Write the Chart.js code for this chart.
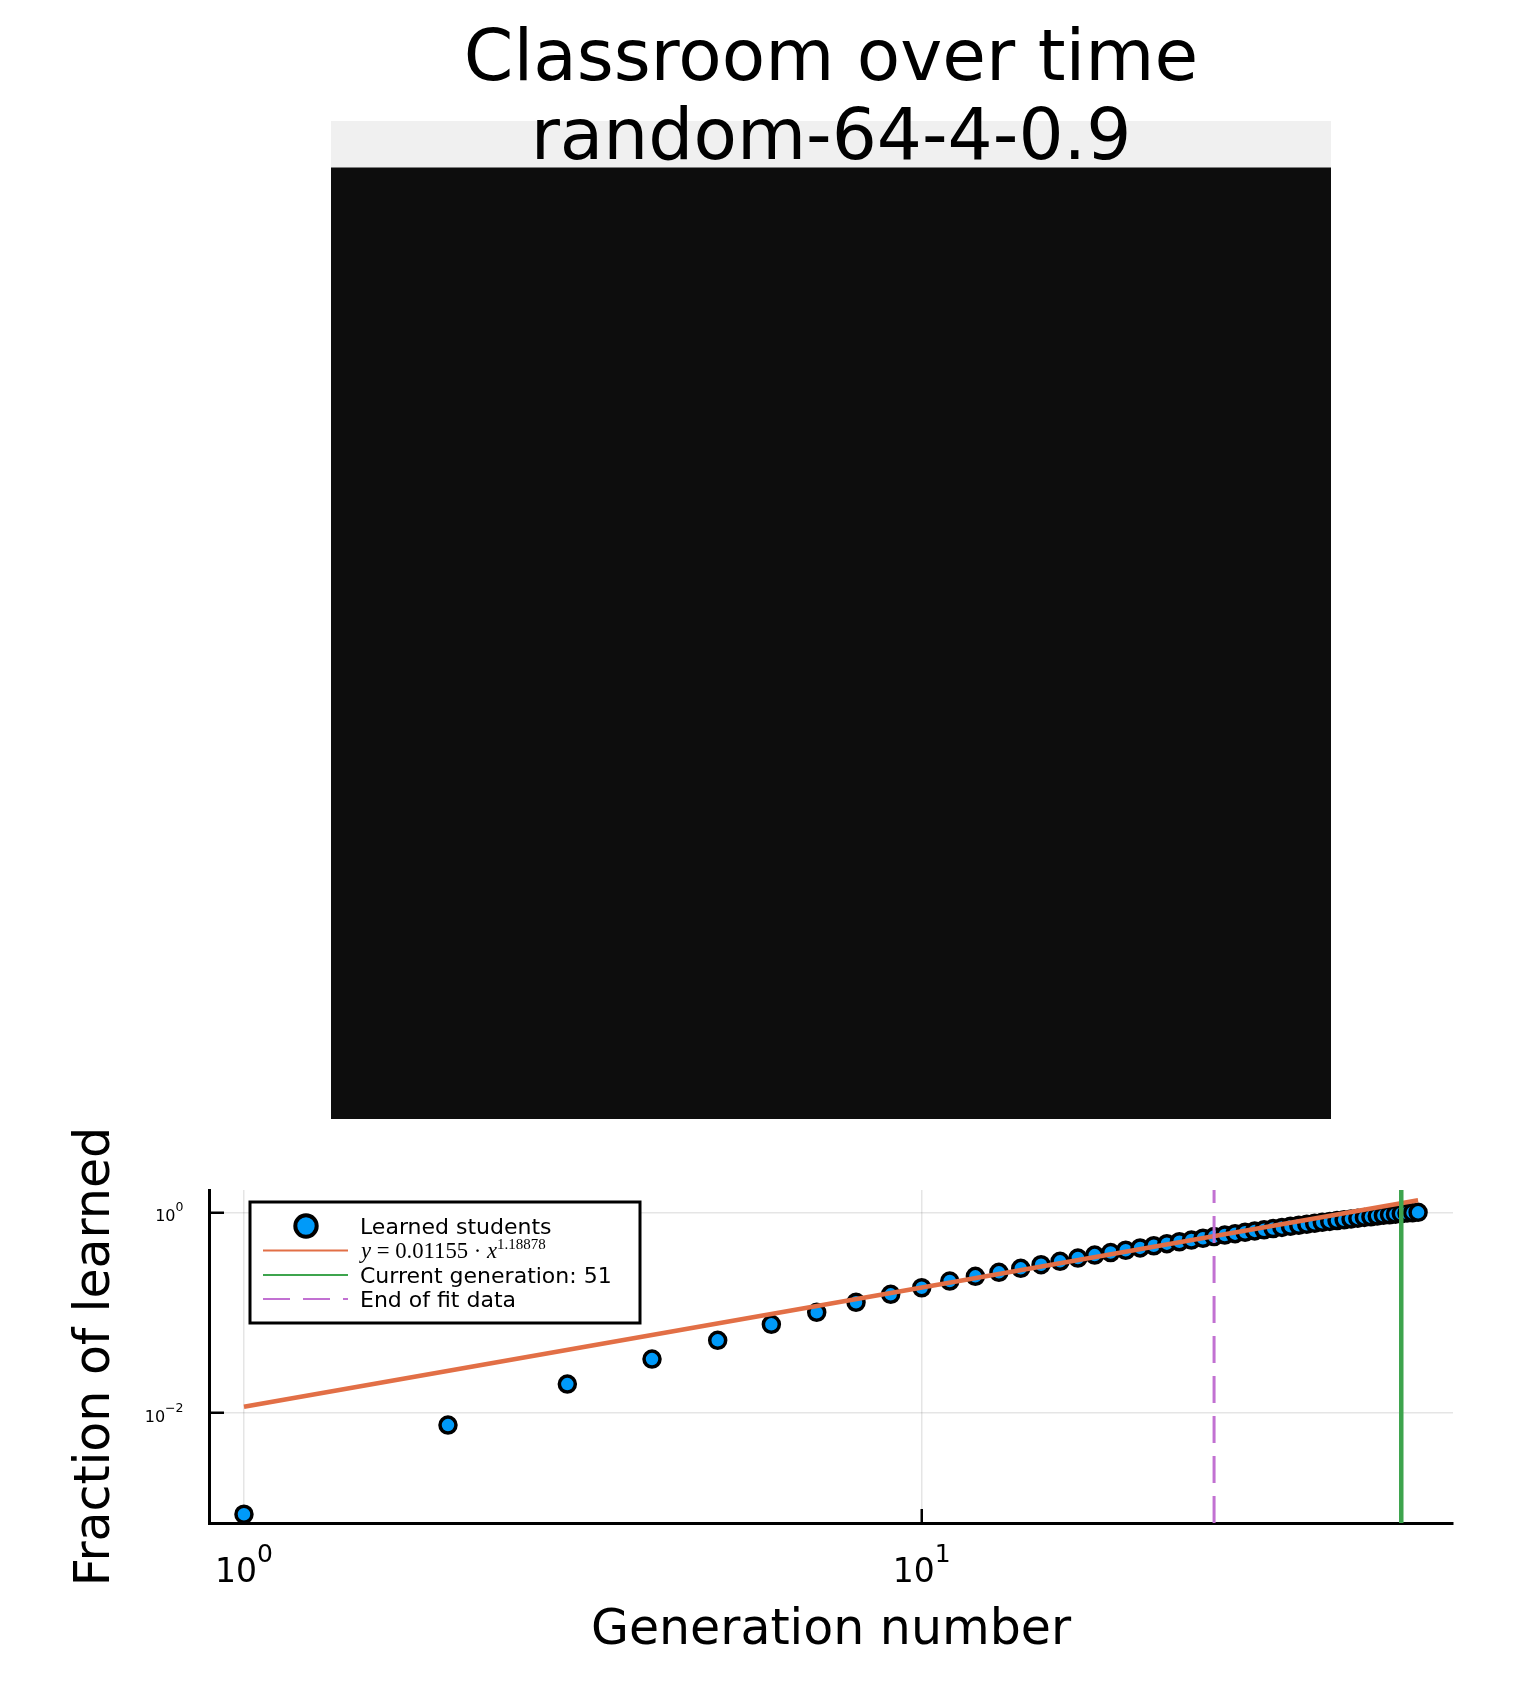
<!DOCTYPE html>
<html>
<head>
<meta charset="utf-8">
<title>Classroom over time</title>
<script src="https://cdn.jsdelivr.net/npm/chart.js@4"></script>
<style>
  html, body { margin: 0; padding: 0; background: #fff; }
  #panel { position: absolute; left: 331px; top: 121px; }
  #main { position: absolute; left: 0; top: 0; }
</style>
</head>
<body>
<canvas id="panel" width="1000" height="998"></canvas>
<canvas id="main" width="1536" height="1706"></canvas>
<script>
// classroom picture: rows of the 64 x 64 grid by colour
const panelColumn = ['classroom'];
const darkRows = [61];
const lightRows = [3];

// generation number 1..54
const generations = [
  1, 2, 3, 4, 5, 6, 7, 8, 9, 10, 11, 12, 13, 14, 15, 16, 17, 18,
  19, 20, 21, 22, 23, 24, 25, 26, 27, 28, 29, 30, 31, 32, 33, 34, 35, 36,
  37, 38, 39, 40, 41, 42, 43, 44, 45, 46, 47, 48, 49, 50, 51, 52, 53, 54
];
const learned = [
  0.00098, 0.00759, 0.01945, 0.0345, 0.053, 0.0765, 0.1008, 0.1268, 0.1524, 0.1773,
  0.2068, 0.2303, 0.2524, 0.2767, 0.3006, 0.325, 0.3504, 0.3753, 0.3976, 0.4191,
  0.4418, 0.4647, 0.4876, 0.5094, 0.5296, 0.552, 0.5739, 0.594, 0.6134, 0.6335,
  0.6526, 0.6708, 0.6896, 0.7072, 0.7253, 0.7438, 0.7611, 0.7787, 0.795, 0.8115,
  0.8285, 0.8438, 0.8595, 0.8754, 0.8896, 0.9039, 0.9186, 0.9335, 0.9464, 0.9595,
  0.9729, 0.984, 0.993, 1
];

// fit line end points
const fitX = [1, 54];
const fitY = [0.01155, 1.32];

const currentGeneration = 51;
const endOfFit = 27;

const xMin = 0.888, xMax = 60.8;
const yMin = 0.000802, yMax = 1.668;

// tick labels are base and exponent
const xTickValues = [1, 10];
const xTickLabels = [['10', '0'], ['10', '1']];
const yTickValues = [0.01, 1];
const yTickLabels = [['10', '\u22122'], ['10', '0']];

const chartTitle = ['Classroom over time', 'random-64-4-0.9'];
const xTitle = 'Generation number';
const yTitle = 'Fraction of learned';

const BLUE = '#009af9', ORANGE = '#e26f46', GREEN = '#3da44d', PURPLE = '#c271d2';
const FONT = '"DejaVu Sans"';

Chart.defaults.font.family = FONT;
Chart.defaults.color = '#000';
Chart.defaults.animation = false;

new Chart(document.getElementById('panel'), {
  type: 'bar',
  data: {
    labels: panelColumn,
    datasets: [
      { data: darkRows, backgroundColor: '#0d0d0d', barPercentage: 1, categoryPercentage: 1 },
      { data: lightRows, backgroundColor: '#f0f0f0', barPercentage: 1, categoryPercentage: 1 }
    ]
  },
  options: {
    responsive: false,
    plugins: { legend: { display: false }, tooltip: { enabled: false } },
    scales: {
      x: { display: false, stacked: true },
      y: { display: false, stacked: true, min: 0, max: 64 }
    }
  }
});

// legend sits inside the plot, drawn by hand because of the math label
const legendBox = {
  id: 'legendBox',
  afterDatasetsDraw(chart) {
    const c = chart.ctx;
    c.save();
    c.fillStyle = '#fff';
    c.strokeStyle = '#000';
    c.lineWidth = 3;
    c.fillRect(250, 1202, 390, 121);
    c.strokeRect(250, 1202, 390, 121);

    // sample marks
    c.lineWidth = 4;
    c.fillStyle = BLUE;
    c.beginPath();
    c.arc(306, 1226, 10.7, 0, Math.PI * 2);
    c.fill();
    c.stroke();

    c.lineWidth = 2;
    c.strokeStyle = ORANGE;
    c.beginPath(); c.moveTo(263, 1250.5); c.lineTo(348, 1250.5); c.stroke();
    c.strokeStyle = GREEN;
    c.beginPath(); c.moveTo(263, 1275); c.lineTo(348, 1275); c.stroke();
    c.strokeStyle = PURPLE;
    c.setLineDash([27, 13]);
    c.beginPath(); c.moveTo(263, 1299); c.lineTo(348, 1299); c.stroke();
    c.setLineDash([]);

    // labels
    c.fillStyle = '#000';
    c.textBaseline = 'middle';
    c.font = '22px ' + FONT;
    c.fillText('Learned students', 360, 1228);
    c.fillText('Current generation: ' + currentGeneration, 360, 1277);
    c.fillText('End of fit data', 360, 1301);

    let x = 361;
    const parts = [
      ['y', 'italic 22.7px "Liberation Serif"', 1252],
      [' = 0.01155 · ', '22.7px "Liberation Serif"', 1252],
      ['x', 'italic 22.7px "Liberation Serif"', 1252],
      ['1.18878', '15px "Liberation Serif"', 1245]
    ];
    parts.forEach(p => {
      c.font = p[1];
      c.fillText(p[0], x, p[2]);
      x += c.measureText(p[0]).width;
    });
    c.restore();
  }
};

// exponent tick labels, the axes can't raise a part of a label
const tickText = {
  id: 'tickText',
  afterDraw(chart) {
    const c = chart.ctx;
    c.save();
    c.fillStyle = '#000';
    c.textBaseline = 'alphabetic';
    c.textAlign = 'left';
    xTickValues.forEach((v, i) => {
      const px = chart.scales.x.getPixelForValue(v);
      c.font = '33px ' + FONT;
      c.fillText(xTickLabels[i][0], px - 29, 1582);
      c.font = '25px ' + FONT;
      c.fillText(xTickLabels[i][1], px + 13, 1562);
    });
    c.textAlign = 'right';
    yTickValues.forEach((v, i) => {
      const py = chart.scales.y.getPixelForValue(v);
      c.font = '12.5px ' + FONT;
      c.fillText(yTickLabels[i][1], 183.5, py - 1);
      const w = c.measureText(yTickLabels[i][1]).width;
      c.font = '16px ' + FONT;
      c.fillText(yTickLabels[i][0], 183.5 - w, py + 9);
    });
    c.restore();
  }
};

function xy(xs, ys) {
  return xs.map((v, i) => ({ x: v, y: ys[i] }));
}

new Chart(document.getElementById('main'), {
  type: 'scatter',
  data: {
    datasets: [
      {
        label: 'Learned students',
        data: xy(generations, learned),
        order: 4,
        clip: false,
        backgroundColor: BLUE,
        borderColor: '#000',
        borderWidth: 3.5,
        pointRadius: 8
      },
      {
        label: 'y = 0.01155 · x^1.18878',
        data: xy(fitX, fitY),
        order: 3,
        showLine: true,
        pointRadius: 0,
        borderColor: ORANGE,
        borderWidth: 4.5
      },
      {
        label: 'Current generation: ' + currentGeneration,
        data: xy([currentGeneration, currentGeneration], [yMin, yMax]),
        order: 2,
        showLine: true,
        pointRadius: 0,
        borderColor: GREEN,
        borderWidth: 4.5
      },
      {
        label: 'End of fit data',
        data: xy([endOfFit, endOfFit], [yMin, yMax]),
        order: 1,
        showLine: true,
        pointRadius: 0,
        borderColor: PURPLE,
        borderWidth: 3,
        borderDash: [27, 13]
      }
    ]
  },
  options: {
    responsive: false,
    layout: { autoPadding: false, padding: { left: 0, right: 83, top: 0, bottom: 0 } },
    plugins: {
      legend: { display: false },
      tooltip: { enabled: false },
      title: {
        display: true,
        fullSize: false,
        text: chartTitle,
        color: '#000',
        font: { size: 71, weight: 'normal', lineHeight: 1.113 },
        padding: { top: 22, bottom: 1010 }
      }
    },
    scales: {
      x: {
        type: 'logarithmic',
        min: xMin,
        max: xMax,
        afterBuildTicks: s => { s.ticks = xTickValues.map(v => ({ value: v })); },
        afterFit: s => { s.height = 183; },
        grid: { color: 'rgba(0,0,0,0.1)', lineWidth: 1.5, tickColor: '#000', tickWidth: 2.5, tickLength: -14 },
        border: { color: '#000', width: 3 },
        ticks: { display: false, autoSkip: false, maxRotation: 0 },
        title: {
          display: true,
          text: xTitle,
          font: { size: 49 },
          padding: { top: 0, bottom: 45 }
        }
      },
      y: {
        type: 'logarithmic',
        min: yMin,
        max: yMax,
        afterBuildTicks: s => { s.ticks = yTickValues.map(v => ({ value: v })); },
        afterFit: s => { s.width = 209; },
        grid: { color: 'rgba(0,0,0,0.1)', lineWidth: 1.5, tickColor: '#000', tickWidth: 2.5, tickLength: -15 },
        border: { color: '#000', width: 3 },
        ticks: { display: false, autoSkip: false },
        title: {
          display: true,
          text: yTitle,
          font: { size: 49 },
          padding: { top: 67, bottom: 0 }
        }
      }
    }
  },
  plugins: [legendBox, tickText]
});
</script>
</body>
</html>
